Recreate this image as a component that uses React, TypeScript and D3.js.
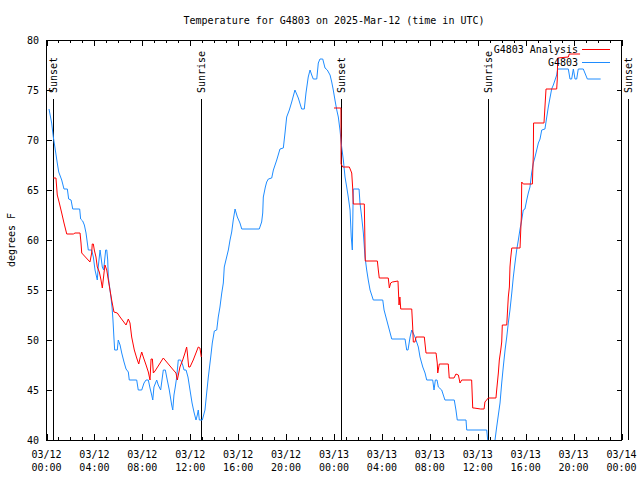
import React from "react";
import * as d3 from "d3";

const TITLE = "Temperature for G4803 on 2025-Mar-12 (time in UTC)";
const Y_LABEL = "degrees F";
const Y_TICKS = [40, 45, 50, 55, 60, 65, 70, 75, 80];

// hours after 2025-03-12 00:00 UTC
const OBS_HOURS = [
  0.21, 0.43, 0.57, 0.71, 0.9, 1.02, 1.27, 1.46, 1.74, 1.85, 2.05, 2.19, 2.77, 2.85, 3.02, 3.16, 3.3, 3.41, 3.49, 3.77,
  3.91, 4.05, 4.24, 4.32, 4.47, 4.55, 4.66, 4.77, 4.83, 4.94, 5.03, 5.11, 5.16, 5.3, 5.38, 5.47, 5.55, 5.63, 5.69, 5.91,
  5.99, 6.14, 6.28, 6.47, 6.64, 6.83, 6.91, 7.53, 7.66, 7.95, 8.14, 8.31, 8.5, 8.64, 8.78, 8.87, 8.97, 9.2, 9.33, 9.53,
  9.75, 9.92, 10.08, 10.25, 10.45, 10.54, 10.64, 10.75, 10.87, 11.0, 11.2, 11.37, 11.48, 11.65, 11.81, 11.98, 12.15, 12.31, 12.48, 12.59,
  12.67, 12.76, 13.01, 13.23, 13.37, 13.51, 13.71, 13.84, 14.01, 14.21, 14.34, 14.48, 14.63, 14.76, 14.84, 15.04, 15.18, 15.32, 15.46, 15.59,
  15.74, 15.93, 16.15, 16.3, 17.76, 17.96, 18.05, 18.1, 18.27, 18.38, 18.52, 18.8, 18.94, 19.22, 19.49, 19.77, 19.91, 20.05, 20.27, 20.47,
  20.74, 21.02, 21.3, 21.52, 21.66, 21.85, 22.0, 22.14, 22.27, 22.56, 22.69, 22.83, 23.06, 23.25, 23.44, 23.67, 23.81, 23.94, 24.08, 24.23,
  24.36, 24.5, 24.64, 24.78, 24.92, 25.06, 25.19, 25.34, 25.44, 25.53, 25.61, 26.09, 26.17, 26.31, 26.45, 26.59, 26.73, 26.86, 27.01, 27.28,
  28.07, 28.18, 28.4, 28.62, 28.82, 29.93, 30.07, 30.18, 30.35, 30.49, 30.76, 31.04, 31.18, 31.41, 31.6, 31.74, 32.24, 32.35, 32.46, 32.6,
  32.71, 32.99, 33.26, 34.04, 34.18, 34.29, 35.02, 35.08, 36.75, 36.83, 37.0, 37.25, 37.44, 37.58, 37.72, 37.86, 38.0, 38.13, 38.28, 38.42,
  38.55, 38.69, 38.84, 38.97, 39.11, 39.25, 39.39, 39.53, 39.67, 39.8, 39.94, 40.09, 40.22, 40.36, 40.5, 40.64, 40.78, 40.92, 41.06, 41.2,
  41.34, 41.61, 41.76, 41.89, 42.03, 42.17, 42.31, 42.45, 42.59, 42.67, 43.56, 43.7, 43.84, 43.98, 44.12, 44.26, 44.39, 44.81, 45.15, 46.26,
];
const OBS_TEMPS = [
  73.1, 71.7, 70.3, 69.2, 67.7, 66.8, 66.0, 65.1, 65.1, 64.1, 64.0, 63.1, 63.1, 62.1, 61.9, 61.5, 60.7, 59.7, 59.0, 59.0,
  58.3, 57.0, 56.0, 57.3, 59.0, 58.3, 57.3, 57.0, 57.7, 59.0, 59.0, 58.0, 56.3, 55.0, 54.3, 53.3, 52.0, 50.2, 49.0, 49.0,
  50.0, 49.5, 48.7, 47.8, 47.1, 46.8, 46.0, 46.0, 45.0, 45.0, 45.7, 46.0, 46.0, 45.2, 44.5, 44.0, 45.3, 46.0, 45.5, 45.0,
  47.0, 47.0, 46.0, 45.0, 43.5, 43.0, 44.5, 45.3, 46.3, 48.0, 48.0, 47.5, 47.0, 47.0, 46.3, 45.0, 43.7, 42.8, 42.0, 42.5,
  43.0, 42.0, 42.0, 43.0, 44.7, 46.3, 48.3, 49.7, 50.9, 51.0, 52.3, 53.3, 54.7, 55.7, 57.3, 58.3, 59.0, 60.0, 60.8, 62.0,
  63.1, 62.3, 61.7, 61.1, 61.1, 61.8, 62.7, 64.3, 65.3, 65.8, 66.1, 66.2, 67.0, 68.0, 69.1, 69.2, 70.7, 72.3, 73.0, 73.8,
  75.0, 74.2, 73.1, 73.1, 74.7, 76.3, 77.0, 76.5, 76.1, 76.1, 77.7, 78.1, 78.1, 77.2, 77.0, 76.5, 75.8, 75.0, 74.0, 73.0,
  72.3, 71.0, 69.3, 68.0, 66.3, 65.3, 64.3, 63.0, 60.3, 59.0, 65.1, 65.1, 63.7, 62.3, 60.7, 58.3, 57.0, 56.0, 55.0, 54.0,
  54.0, 53.0, 52.0, 51.0, 50.1, 50.1, 49.0, 49.0, 50.3, 51.0, 50.3, 49.3, 48.3, 47.3, 46.7, 46.0, 46.0, 45.0, 46.0, 46.0,
  45.3, 45.0, 44.0, 44.0, 43.0, 42.0, 42.0, 41.0, 41.0, 40.0, 39.0, 39.0, 40.0, 41.3, 42.5, 43.7, 45.7, 47.3, 49.0, 50.3,
  51.7, 53.0, 54.7, 56.3, 57.7, 59.0, 60.0, 61.1, 62.0, 63.0, 63.1, 64.0, 64.7, 65.3, 66.7, 67.7, 68.3, 69.0, 69.7, 70.1,
  71.0, 71.1, 72.3, 73.3, 74.2, 75.1, 75.5, 76.0, 76.5, 77.1, 77.1, 76.1, 76.1, 77.1, 76.1, 76.1, 77.1, 77.1, 76.1, 76.1,
];

// analysis series; null marks the daytime gap
const ANA_HOURS = [
  0.57, 0.79, 0.9, 1.07, 1.27, 1.46, 1.69, 2.24, 2.38, 2.8, 2.88, 2.94, 3.63, 3.77, 3.82, 3.91, 3.99, 4.13, 4.24, 4.41,
  4.55, 4.66, 4.8, 4.88, 5.03, 5.16, 5.3, 5.44, 5.63, 5.91, 6.14, 6.64, 6.83, 6.97, 7.11, 7.33, 7.53, 7.7, 7.81, 7.95,
  8.08, 8.31, 8.5, 8.64, 8.73, 8.84, 8.92, 9.06, 9.75, 10.03, 10.59, 10.81, 10.92, 11.14, 11.37, 11.56, 11.7, 11.75, 11.87, 11.98,
  12.25, 12.67, 12.81, 12.92, 18.0,
  24.0, 24.58, 24.59, 24.73, 25.28, 25.48, 25.56, 25.61, 26.53, 26.61, 27.62, 27.7, 27.78, 28.53, 28.62, 28.73, 28.87, 29.34, 29.43, 29.5,
  29.57, 30.49, 30.57, 30.62, 30.76, 30.85, 31.54, 31.68, 32.52, 32.62, 32.66, 32.79, 33.54, 33.62, 34.02, 34.18, 34.38, 34.52, 34.66, 35.49,
  35.58, 35.69, 36.24, 36.53, 36.6, 36.88, 37.52, 37.58, 37.72, 37.8, 37.92, 38.0, 38.05, 38.42, 38.55, 38.64, 38.69, 38.75, 38.84, 39.53,
  39.59, 39.64, 39.67, 39.8, 40.56, 40.59, 40.64, 40.66, 41.53, 41.61, 41.7, 42.59, 42.64, 42.67, 43.56, 43.64, 44.54,
];
const ANA_TEMPS: (number | null)[] = [
  66.2, 66.2, 64.5, 63.7, 62.7, 61.7, 60.6, 60.6, 60.7, 60.7, 59.7, 58.7, 57.8, 58.7, 59.6, 59.6, 59.0, 58.3, 57.3, 56.8,
  56.0, 55.2, 56.7, 57.5, 57.0, 56.0, 55.0, 54.0, 52.8, 52.7, 52.3, 51.5, 52.1, 51.7, 50.3, 49.0, 48.2, 47.6, 48.2, 48.8,
  48.3, 47.5, 46.8, 46.0, 48.1, 48.1, 46.7, 46.9, 48.2, 47.8, 47.0, 46.7, 46.0, 47.3, 48.0, 48.7, 49.3, 48.8, 47.3, 47.3,
  48.0, 49.3, 49.2, 48.3, null,
  73.2, 73.2, 67.6, 67.3, 67.3, 66.7, 65.2, 63.6, 63.6, 57.9, 57.9, 57.0, 56.2, 56.2, 55.2, 55.7, 55.8, 55.9, 53.5, 54.3,
  53.1, 53.1, 51.3, 49.8, 49.8, 50.3, 50.3, 48.7, 48.7, 47.7, 46.7, 47.6, 47.6, 46.2, 46.2, 46.6, 46.5, 45.7, 46.0, 46.0,
  43.2, 43.2, 43.1, 43.1, 43.8, 44.2, 44.2, 45.0, 46.7, 48.0, 49.0, 49.8, 51.5, 51.5, 54.3, 55.3, 57.3, 58.2, 59.2, 59.2,
  61.0, 62.3, 65.8, 65.6, 65.6, 66.7, 68.6, 71.7, 71.7, 73.3, 75.1, 75.1, 76.1, 78.2, 78.3, 78.6, 78.6,
];

const SUN_LABELS = ["Sunset", "Sunrise", "Sunset", "Sunrise", "Sunset"];
const SUN_HOURS = [0.54, 12.86, 24.61, 36.88, 48.57];

const LEGEND = [
  { name: "G4803 Analysis", color: "#ff0000" },
  { name: "G4803", color: "#1e8cff" },
];

const BASE = Date.UTC(2025, 2, 12, 0, 0);
const toDate = (h: number) => new Date(BASE + h * 3600e3);

export default function App() {
  const W = 640, H = 480;
  const L = 46.5, R = 621.5, T = 40, B = 440;
  const font = "'DejaVu Sans Mono', 'Liberation Mono', monospace";

  const x = d3.scaleUtc().domain([toDate(0), toDate(48)]).range([L, R]);
  const y = d3.scaleLinear().domain([40, 80]).range([B, T]);

  const obs = OBS_HOURS.map((h, i) => ({ t: toDate(h), v: OBS_TEMPS[i] as number | null }));
  const ana = ANA_HOURS.map((h, i) => ({ t: toDate(h), v: ANA_TEMPS[i] }));

  const line = d3
    .line<{ t: Date; v: number | null }>()
    .defined((d) => d.v !== null)
    .x((d) => x(d.t))
    .y((d) => y(d.v as number));

  const majorX = x.ticks(d3.utcHour.every(4)!);
  const minorX = x.ticks(d3.utcHour.every(1)!);
  const fmtDate = d3.utcFormat("%m/%d");
  const fmtTime = d3.utcFormat("%H:%M");

  const crisp = (v: number) => Math.round(v) + 0.5;

  return (
    <svg
      width={W}
      height={H}
      style={{ position: "absolute", left: 0, top: 0, background: "#fff" }}
      fontFamily={font}
      fontSize={10}
    >
      <defs>
        <clipPath id="plotclip">
          <rect x={L} y={T} width={R - L} height={B - T + 1} />
        </clipPath>
      </defs>
      <rect x={0} y={0} width={W} height={H} fill="#fff" />

      {/* title */}
      <text x={334} y={23.5} textAnchor="middle" fill="#000">
        {TITLE}
      </text>

      {/* y label */}
      <text transform={`translate(14.5,240) rotate(-90)`} textAnchor="middle" fill="#000">
        {Y_LABEL}
      </text>

      {/* y ticks */}
      {Y_TICKS.map((v) => (
        <g key={"y" + v} shapeRendering="crispEdges">
          <line x1={L} x2={L + 5} y1={crisp(y(v)) - 0.5} y2={crisp(y(v)) - 0.5} stroke="#000" />
          <line x1={R - 5} x2={R} y1={crisp(y(v)) - 0.5} y2={crisp(y(v)) - 0.5} stroke="#000" />
          <text x={39} y={y(v) + 3.5} textAnchor="end" fill="#000">
            {v}
          </text>
        </g>
      ))}

      {/* x minor ticks */}
      {minorX.map((d, i) => (
        <g key={"mx" + i} shapeRendering="crispEdges">
          <line x1={crisp(x(d))} x2={crisp(x(d))} y1={B} y2={B - 3} stroke="#000" />
          <line x1={crisp(x(d))} x2={crisp(x(d))} y1={T} y2={T + 3} stroke="#000" />
        </g>
      ))}
      {/* x major ticks + labels */}
      {majorX.map((d, i) => (
        <g key={"MX" + i}>
          <line x1={crisp(x(d))} x2={crisp(x(d))} y1={B} y2={B - 6} stroke="#000" shapeRendering="crispEdges" />
          <line x1={crisp(x(d))} x2={crisp(x(d))} y1={T} y2={T + 6} stroke="#000" shapeRendering="crispEdges" />
          <text x={x(d)} y={457.5} textAnchor="middle" fill="#000">
            {fmtDate(d)}
          </text>
          <text x={x(d)} y={471} textAnchor="middle" fill="#000">
            {fmtTime(d)}
          </text>
        </g>
      ))}

      {/* sunrise / sunset markers */}
      {SUN_HOURS.map((h, i) => {
        const px = crisp(x(toDate(h)));
        return (
          <g key={"sun" + i}>
            <line x1={px} x2={px} y1={99} y2={B} stroke="#000" shapeRendering="crispEdges" />
            <text transform={`translate(${px + 3.5},93) rotate(-90)`} textAnchor="start" fill="#000">
              {SUN_LABELS[i]}
            </text>
          </g>
        );
      })}

      {/* data */}
      <g clipPath="url(#plotclip)" fill="none" strokeWidth={1}>
        <path d={line(obs) || ""} stroke={LEGEND[1].color} />
        <path d={line(ana) || ""} stroke={LEGEND[0].color} />
      </g>

      {/* frame */}
      <rect x={L} y={T} width={R - L} height={B - T} fill="none" stroke="#000" shapeRendering="crispEdges" />

      {/* legend */}
      {LEGEND.map((s, i) => (
        <g key={"lg" + i}>
          <text x={578} y={53 + i * 13} textAnchor="end" fill="#000">
            {s.name}
          </text>
          <line x1={582} x2={610} y1={49.5 + i * 13} y2={49.5 + i * 13} stroke={s.color} shapeRendering="crispEdges" />
        </g>
      ))}
    </svg>
  );
}
